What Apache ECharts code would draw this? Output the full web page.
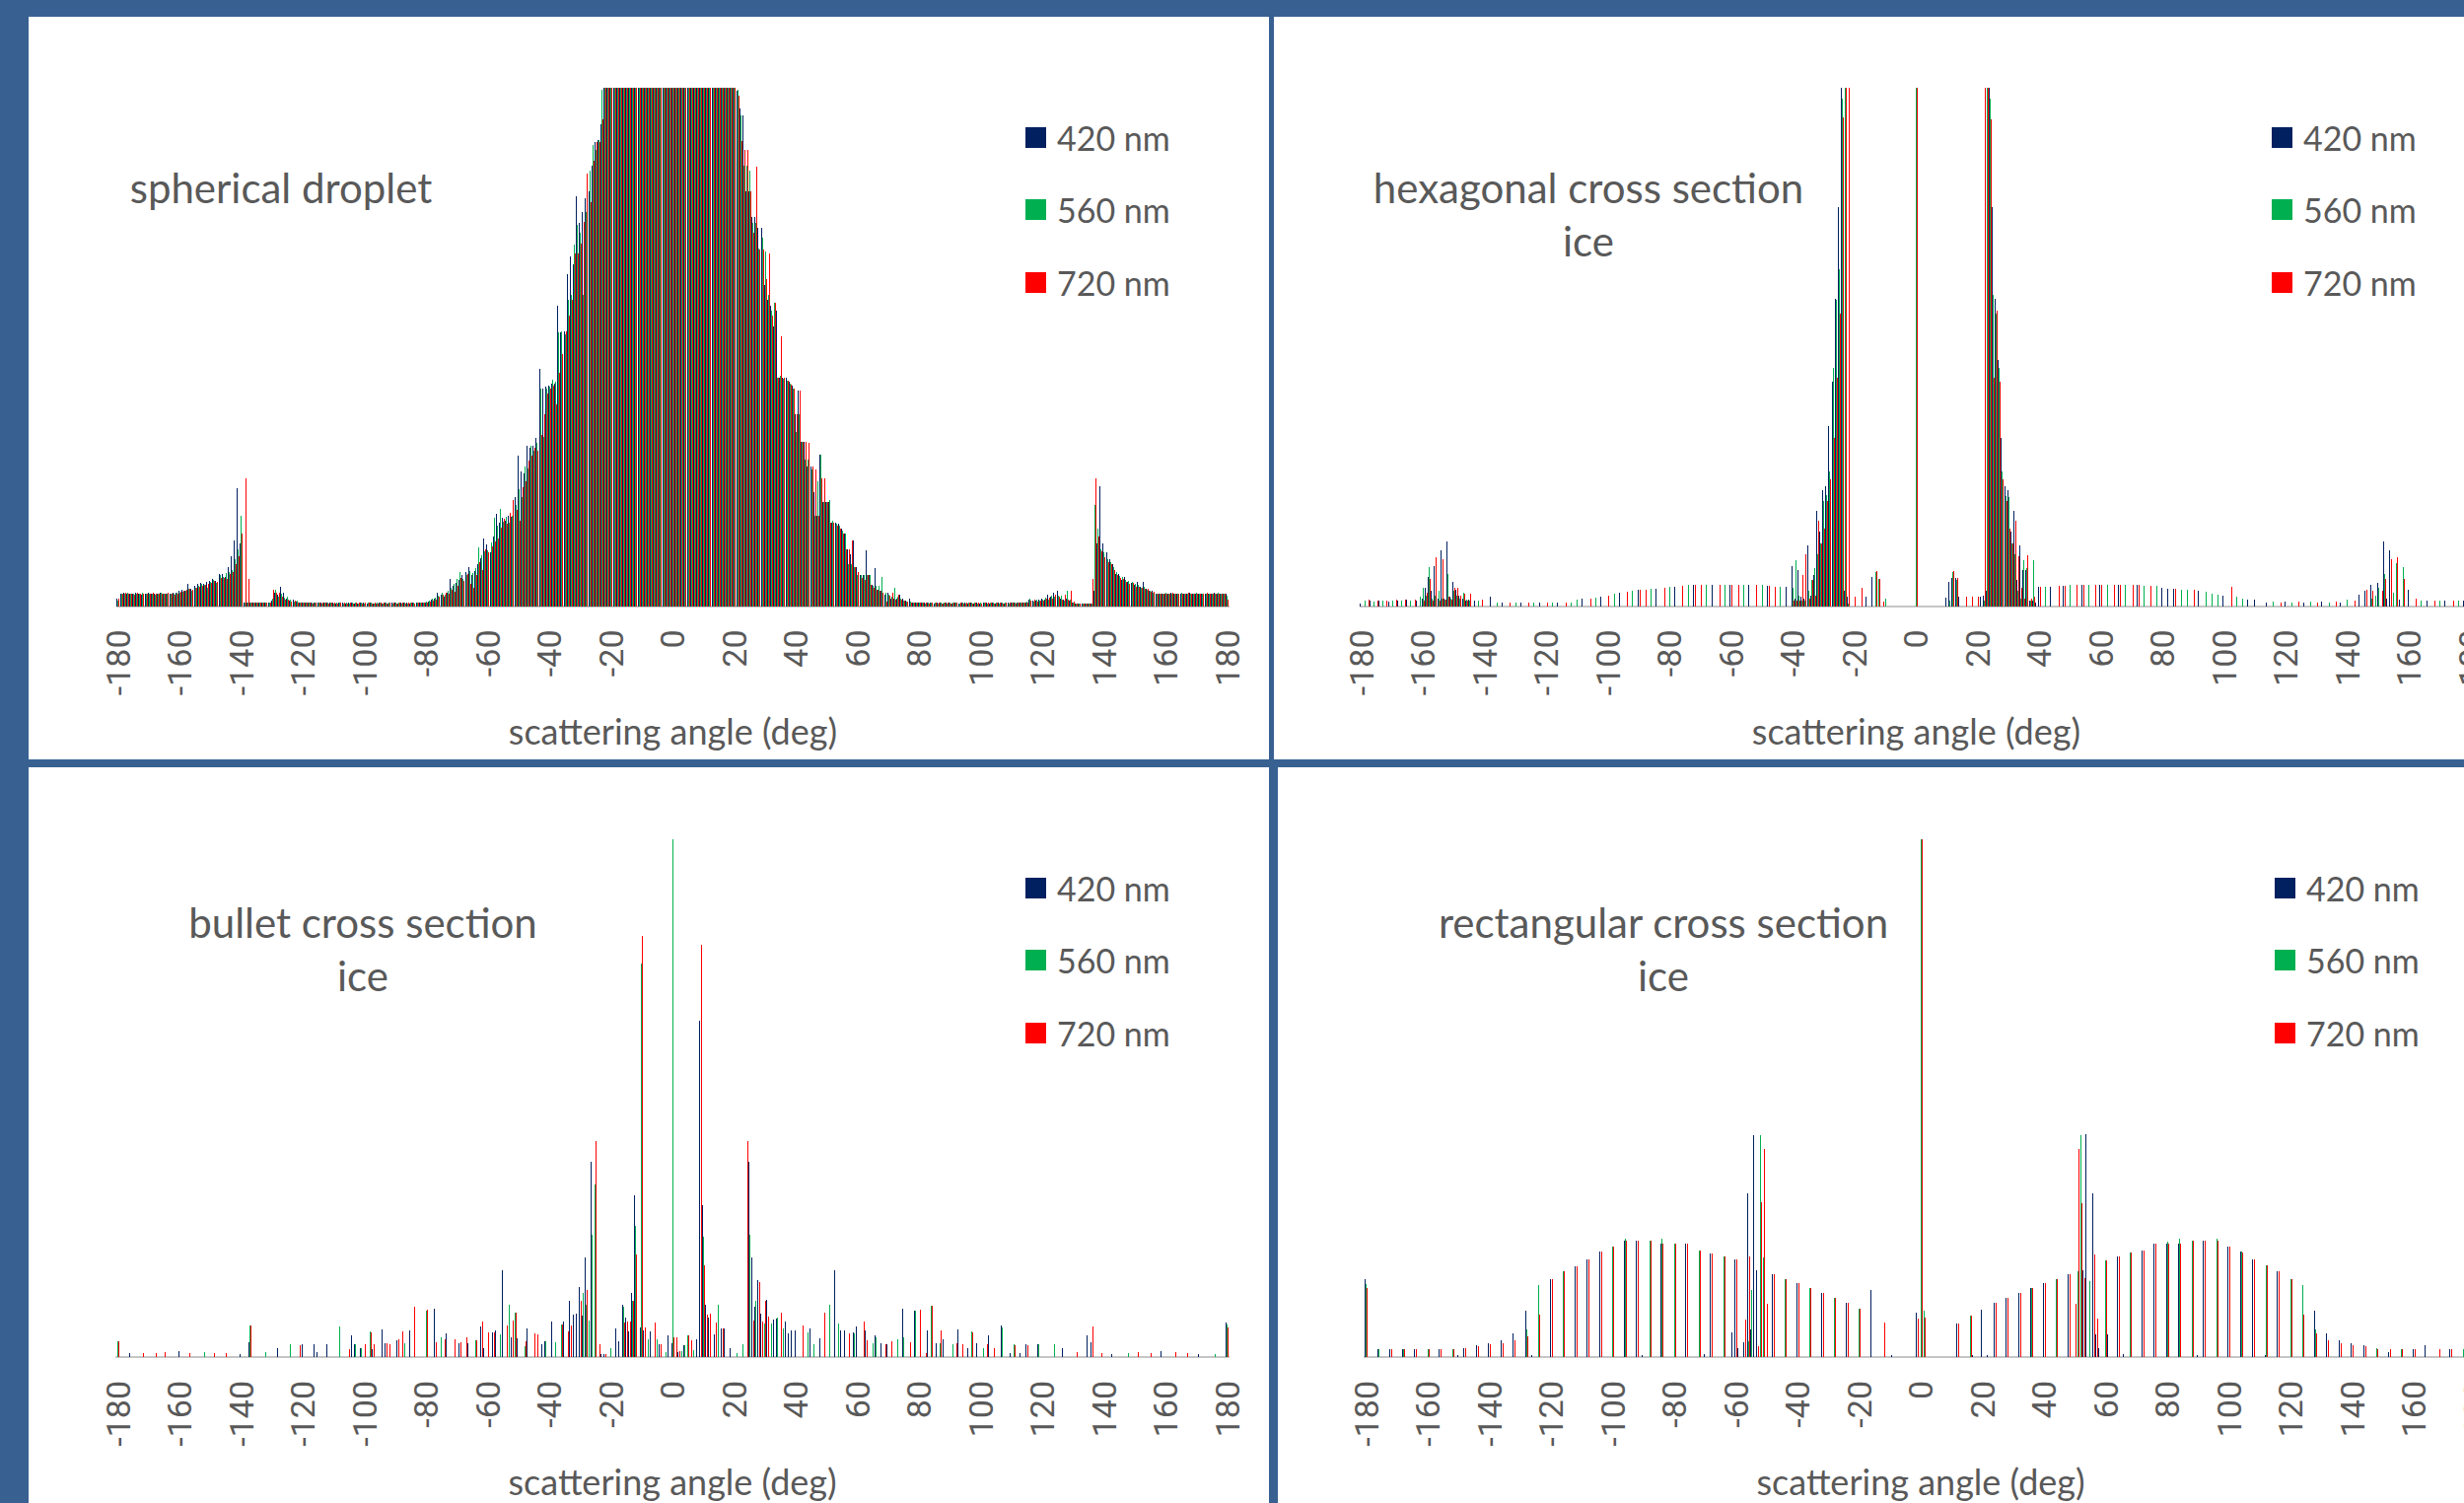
<!DOCTYPE html>
<html>
<head>
<meta charset="utf-8">
<script src="https://cdn.jsdelivr.net/npm/echarts@6.0.0/dist/echarts.min.js"></script>
<style>
html,body{margin:0;padding:0;background:#386192;overflow:hidden;}
#chart{width:2499px;height:1524px;}
#chart svg path{shape-rendering:crispEdges;}
</style>
</head>
<body>
<div id="chart"></div>
<script>
// categories: scattering angle in degrees
const angles = [];
for (let a = -180; a <= 180; a++) angles.push(String(a));

const seriesNames = ['420 nm', '560 nm', '720 nm'];
const seriesColors = ['#002060', '#00B050', '#FF0000'];
const panelTitles = ['spherical droplet', 'hexagonal cross section\nice', 'bullet cross section\nice', 'rectangular cross section\nice'];
const axisTitle = 'scattering angle (deg)';

// ---- spherical droplet (dense, one value per degree, % of plot height; >100 is clipped) ----
const sphere420 = [
1.5,2.4,2.5,2.4,2.3,2.4,2.5,2.4,2.2,2.4,2.5,2.3,2.4,2.4,2.5,2.4,2.3,2.4,2.6,2.5,
2.9,3.2,3.0,4.2,3.3,3.9,4.2,4.4,4.3,4.6,4.9,5.2,4.9,6.2,6.1,5.6,7.6,9.6,12.7,
22.7,12.0,0.7,0.7,
0.7,0.6,0.7,0.7,0.6,0.7,0.7,
1.0,2.5,2.2,3.7,2.5,1.5,1.0,1.2,0.8,
0.7,0.6,0.6,0.7,0.6,0.6,0.7,0.6,0.6,0.6,0.7,0.6,0.5,0.6,0.6,0.5,0.6,0.6,0.5,0.5,0.6,0.6,0.5,0.6,0.5,0.5,0.6,0.5,0.6,0.5,0.6,0.6,0.5,0.6,0.6,0.6,0.5,0.6,0.6,0.7,0.6,0.7,
0.9,1.2,1.5,2.5,2.2,1.8,2.6,5.2,3.9,4.5,5.0,5.9,6.5,7.6,6.0,6.8,8.0,9.2,13.0,11.8,10.3,13.5,17.8,16.0,17.0,16.4,17.5,17.2,21.0,29.0,26.0,25.5,31.0,30.5,31.0,32.4,45.7,42.0,42.3,42.6,43.0,43.0,57.9,52.8,53.0,64.0,67.4,66.0,79.0,74.0,76.0,78.6,80.0,85.0,89.5,90.0,93.0,
150,150,150,150,150,150,150,150,150,150,150,150,150,150,150,150,150,150,150,150,150,150,150,150,150,150,150,150,150,150,150,150,150,150,150,150,150,150,150,150,150,150,150,
99.5,96,94.6,80,80,75,75,73,73,62,59,58,54,57,44,44,44,43.2,42.6,37,41.6,31.7,31.7,27,27,22,17.5,29.3,20,20,20,16,16,15.8,15,14,11,10,12.7,7.6,6,6,10.7,6,4,7.3,3.2,3,2.2,2.5,1.5,1.5,1.5,2.2,1.5,1.0,1.5,
0.7,0.6,0.6,0.7,0.6,0.6,0.6,0.5,0.6,0.6,0.5,0.6,0.6,0.5,0.6,0.5,0.6,0.6,0.5,0.6,0.5,0.6,0.5,0.6,0.6,0.5,0.6,0.5,0.6,0.6,0.5,0.6,0.6,0.7,0.6,0.6,0.7,0.7,
1.2,1.0,1.0,1.3,1.5,1.2,2.2,1.8,2.5,3.0,1.5,1.2,1.5,1.0,0.6,0.5,0.5,0.5,0.5,0.5,
0.5,3.0,12.0,23.2,12.0,10.3,9.0,8.0,6.2,6.2,5.0,5.6,4.6,4.4,4.0,4.6,3.8,4.6,3.3,3.0,2.9,
2.4,2.3,2.4,2.3,2.4,2.5,2.3,2.4,2.4,2.3,2.4,2.5,2.3,2.4,2.4,2.3,2.4,2.3,2.4,2.5,2.3,2.4,2.4,2.3
];
const sphere560 = [
1.0,2.3,2.4,2.5,2.4,2.3,2.4,2.4,2.5,2.3,2.4,2.4,2.2,2.4,2.5,2.4,2.4,2.3,2.4,2.5,
2.6,2.8,2.9,3.4,2.9,3.5,3.9,4.2,4.1,3.5,4.6,5.1,4.5,6.0,5.7,6.3,6.6,6.9,9.0,
11.0,17.5,0.7,0.7,
0.6,0.7,0.6,0.6,0.7,0.6,0.6,
1.5,3.2,1.8,2.4,1.6,1.8,1.3,0.8,1.0,
0.6,0.7,0.6,0.6,0.6,0.7,0.6,0.5,0.6,0.6,0.6,0.5,0.6,0.6,0.5,0.6,0.5,0.6,0.6,0.5,0.6,0.5,0.6,0.6,0.5,0.6,0.6,0.5,0.6,0.6,0.5,0.6,0.6,0.5,0.6,0.5,0.6,0.6,0.7,0.6,0.7,0.8,
1.0,1.4,1.6,2.0,2.5,2.2,3.0,3.5,4.2,5.2,6.6,5.3,5.9,6.8,6.4,7.3,11.3,9.8,10.5,10.8,12.2,17.1,15.5,18.8,16.2,17.3,16.0,17.5,19.5,22.5,21.0,27.0,26.5,31.0,30.0,31.5,42.0,32.7,42.0,42.3,43.6,43.3,52.8,53.0,52.5,59.0,60.0,69.8,73.5,72.0,60.0,76.0,84.0,89.0,88.0,90.0,99.7,
150,150,150,150,150,150,150,150,150,150,150,150,150,150,150,150,150,150,150,150,150,150,150,150,150,150,150,150,150,150,150,150,150,150,150,150,150,150,150,150,150,150,150,
99.7,94.6,85,85,84,74,74,69,71,68.4,60,57,58.6,44,44.5,43.8,43.5,43,42,33.6,37,31.7,28.3,28.3,26.3,17.5,24,29.3,20,20,20.5,16.5,15.8,15.5,14.5,14,8,8,7.6,6,6,6,6,6,3.9,3.9,3.9,5.6,2.5,2.2,1.8,3.5,1.8,1.5,1.0,0.9,0.8,
0.6,0.6,0.7,0.6,0.5,0.6,0.6,0.6,0.5,0.6,0.6,0.5,0.6,0.6,0.6,0.5,0.6,0.5,0.6,0.6,0.6,0.5,0.6,0.6,0.5,0.6,0.6,0.6,0.5,0.6,0.6,0.5,0.6,0.6,0.7,0.6,0.7,0.8,
1.5,0.9,1.2,1.1,1.2,1.6,1.3,2.0,1.8,2.0,2.0,1.0,3.0,1.2,0.6,0.5,0.5,0.5,0.5,0.5,
0.5,19.5,15.0,11.0,10.3,9.0,8.5,7.5,6.5,5.8,5.6,5.0,4.8,4.6,4.2,4.0,3.5,3.8,3.2,2.9,2.6,
2.3,2.4,2.4,2.5,2.3,2.4,2.4,2.3,2.5,2.4,2.3,2.4,2.4,2.5,2.3,2.4,2.4,2.3,2.4,2.4,2.5,2.3,2.4,2.0
];
const sphere720 = [
1.4,2.4,2.5,2.4,2.4,2.2,2.5,2.4,2.3,2.4,2.4,2.5,2.4,2.3,2.4,2.4,2.5,2.4,2.2,2.4,
2.7,2.9,3.2,3.3,3.1,3.6,3.7,3.9,4.0,4.2,4.5,4.8,4.7,5.4,5.5,5.2,6.2,6.5,8.0,
9.6,14.0,24.7,5.2,
0.7,0.6,0.7,0.6,0.6,0.7,0.6,
3.2,2.6,2.5,1.8,1.2,1.2,0.9,1.0,0.7,
0.6,0.6,0.7,0.6,0.5,0.6,0.6,0.6,0.7,0.5,0.6,0.6,0.5,0.6,0.6,0.5,0.6,0.5,0.6,0.6,0.5,0.6,0.6,0.5,0.6,0.5,0.6,0.6,0.5,0.6,0.6,0.5,0.6,0.6,0.5,0.6,0.6,0.5,0.6,0.6,0.6,0.7,
0.8,1.0,1.2,1.8,2.2,2.5,2.4,3.1,2.8,3.9,5.5,4.8,6.2,4.2,3.5,6.0,8.5,7.0,11.0,10.3,11.6,12.5,13.0,15.2,16.8,15.9,18.0,20.5,18.5,16.5,23.0,24.0,28.0,29.0,30.5,30.0,33.0,37.0,41.0,42.0,42.5,38.9,45.0,48.7,53.0,56.0,59.0,68.0,68.0,70.0,74.2,83.4,78.0,86.0,89.5,89.5,94.0,
150,150,150,150,150,150,150,150,150,150,150,150,150,150,150,150,150,150,150,150,150,150,150,150,150,150,150,150,150,150,150,150,150,150,150,150,150,150,150,150,150,150,150,
98.5,89.8,88,88,80,72,84.7,68.7,68.7,63,68,56,58.6,44,52,44,43.5,42.8,42,37,41.6,31.7,31.7,31.4,27,26.3,17.5,24.6,24.6,20,16,16,15.5,15,14,11,11,12.7,7.6,6.5,5.5,5,6,4,3.5,3.2,3,2.5,0.9,2,2.5,1.2,2.2,1.2,1.0,0.8,0.7,
0.6,0.7,0.6,0.6,0.6,0.5,0.6,0.6,0.6,0.5,0.6,0.6,0.5,0.6,0.6,0.6,0.5,0.6,0.6,0.5,0.6,0.6,0.5,0.6,0.6,0.6,0.5,0.6,0.6,0.5,0.6,0.6,0.6,0.5,0.6,0.7,0.6,0.7,
1.0,1.2,0.9,1.0,1.1,1.4,1.6,1.5,2.2,1.8,1.2,2.2,1.2,3.0,0.8,0.5,0.5,0.5,0.5,0.5,
5.2,24.7,13.4,10.5,9.5,8.5,8.0,7.0,6.0,5.5,5.2,4.6,4.2,4.5,3.8,3.7,3.6,3.4,3.3,2.8,2.7,
2.4,2.4,2.3,2.4,2.4,2.5,2.4,2.3,2.4,2.4,2.5,2.3,2.4,2.4,2.3,2.4,2.5,2.4,2.3,2.4,2.4,2.3,2.4,1.3
];

// ---- hexagonal ice: [angle, value] (angles not listed are 0) ----
const hex420 = [
[-180,0.5],[-177,1.0],[-174,1.0],[-171,0.8],[-168,1.0],[-165,1.3],[-162,1.0],
[-160,1.5],[-159,3.5],[-158,5.6],[-157,2.9],[-156,7.7],[-155,1.5],[-154,10.7],[-153,1.5],[-152,12.5],[-151,1.8],[-150,4.6],[-149,3.2],[-148,2.0],[-147,1.5],[-146,1.0],[-145,1.3],[-143,1.0],[-138,1.8],
[-134,0.6],[-128,0.6],[-122,0.7],[-116,0.7],
[-108,1.4],[-102,1.8],[-96,2.5],[-90,3.1],[-84,3.4],[-78,3.8],[-72,4.0],[-66,4.1],[-60,4.1],[-54,4.1],[-48,3.9],[-42,3.7],
[-40,7.7],[-39,1.5],[-38,6.9],[-37,1.8],[-36,1.5],[-35,11.7],[-34,2.0],[-33,5.9],[-32,18.3],[-31,14.4],[-30,22.4],[-29,23.2],[-28,34.8],[-27,43.3],[-26,59.2],[-25,77],[-24,130],[-23,3.0],[-22,1.8],[-16,1.8],[-14,5.6],
[10,1.6],[11,4.6],[12,5.4],[13,5.4],[14,1.8],[21,1.8],[22,2.0],[23,3.0],[24,130],[25,77],[26,59.2],[27,47.4],[28,32.4],[29,23.2],[30,22.4],[31,14.4],[32,18.3],[33,5.0],[34,11.7],[35,6.9],[36,6.9],[37,1.0],[38,1.0],[39,0.7],[40,3.7],
[44,3.8],[48,3.9],[54,4.1],[60,4.1],[66,4.1],[72,4.0],[80,3.5],[82,3.3],[84,3.3],[92,2.9],[100,2.0],[108,1.3],[110,1.3],
[114,0.7],[120,0.8],[126,0.7],[132,0.8],[138,0.7],[144,2.2],[146,2.9],[148,4.1],[150,4.4],[152,12.5],[153,1.5],[154,10.7],[157,1.2],[160,3.2],[166,1.0],[172,1.0],[178,1.0]
];
const hex560 = [
[-179,1.0],[-176,0.8],[-173,1.0],[-170,1.0],[-167,1.0],[-164,1.0],[-161,1.8],[-160,3.5],[-159,2.0],[-158,7.6],[-157,1.5],[-156,2.0],[-155,2.9],[-154,1.5],[-153,1.2],[-152,6.2],[-151,1.5],[-150,3.0],[-149,2.0],[-148,1.5],[-147,2.5],[-146,1.2],[-145,1.0],[-142,1.0],
[-136,0.6],[-130,0.6],[-124,0.7],[-118,0.6],[-112,0.7],
[-110,1.3],[-104,1.7],[-98,2.4],[-92,2.9],[-86,3.3],[-80,3.7],[-74,4.0],[-68,4.1],[-62,4.1],[-56,4.1],[-50,4.0],[-44,3.7],
[-40,3.5],[-39,8.8],[-38,2.0],[-37,1.0],[-36,1.0],[-35,3.0],[-34,5.0],[-33,7.3],[-32,10.0],[-31,12.0],[-30,20.2],[-29,21.5],[-28,26.0],[-27,46.0],[-26,59.0],[-25,65.0],[-24,98],[-23,130],[-22,0.5],[-13,6.5],[-12,5.2],[-10,1.5],
[0,130],[11,1.0],[12,6.5],[13,5.0],[22,1.0],[23,130],[24,98],[25,60],[26,56.5],[27,46],[28,26],[29,21.2],[30,21],[31,12],[32,10],[33,3],[34,1.5],[35,8.8],[36,7.3],[37,1.0],[38,8.8],
[42,3.7],[50,4.0],[56,4.1],[62,4.1],[68,4.1],[74,3.9],[78,3.9],[86,3.1],[88,3.1],[94,2.7],[96,2.4],[98,2.2],[104,1.8],[106,1.5],
[116,0.8],[122,0.7],[128,0.8],[134,0.7],[140,1.2],[148,1.5],[149,2.0],[150,3.5],[152,6.2],[155,2.5],[156,8.3],[158,7.6],[164,1.0],[170,1.0],[176,1.0]
];
const hex720 = [
[-178,1.2],[-175,1.0],[-172,1.0],[-169,1.2],[-166,1.3],[-163,1.3],[-160,1.0],[-159,2.5],[-158,5.2],[-157,1.0],[-156,9.5],[-155,1.0],[-154,9.0],[-153,1.2],[-152,1.8],[-151,1.2],[-150,3.5],[-149,3.5],[-148,2.0],[-147,2.4],[-146,1.0],[-145,2.4],[-141,1.3],
[-132,0.6],[-126,0.6],[-120,0.6],[-114,0.7],
[-106,1.5],[-100,2.0],[-94,2.7],[-90,3.1],[-88,3.2],[-82,3.6],[-76,3.9],[-72,4.0],[-70,4.1],[-64,4.1],[-60,4.1],[-58,4.1],[-52,4.0],[-48,3.9],[-46,3.8],
[-40,1.0],[-39,1.0],[-38,1.0],[-37,6.0],[-36,10.0],[-35,1.5],[-34,5.0],[-33,2.0],[-32,16.4],[-31,12.0],[-30,15.0],[-29,20.2],[-28,24.4],[-27,32.4],[-26,44.0],[-25,56.5],[-24,94.2],[-23,130],[-22,130],[-20,1.8],[-18,3.5],[-13,6.8],[-12,5.2],[-11,0.8],
[0,130],[12,6.8],[13,5.4],[16,1.8],[18,1.8],[20,1.8],[22,130],[23,130],[24,94],[25,44],[26,57],[27,43.3],[28,24.4],[29,20.2],[30,15],[31,12],[32,16.4],[33,9.6],[34,3.5],[35,1.5],[36,9.8],[37,1.5],[38,1.8],[40,3.7],
[46,3.9],[48,3.9],[52,4.1],[54,4.1],[58,4.1],[60,4.1],[64,4.1],[66,4.1],[70,4.0],[72,4.0],[76,3.9],[84,3.3],[90,3.1],[102,3.7],
[118,0.7],[124,0.8],[130,0.7],[136,0.8],[142,1.0],[146,3.1],[148,2.9],[151,2.9],[152,5.2],[154,9.0],[156,9.5],[158,5.2],[162,1.5],[168,1.0],[174,1.0],[180,1.0]
];

// ---- bullet ice ----
const bullet420 = [
[-176,0.7],[-160,1.2],[-140,0.6],[-137,2.9],[-128,1.7],[-120,2.4],[-116,2.4],[-115,0.9],[-112,2.4],[-104,4.1],[-103,2.4],[-101,1.8],[-97,1.5],[-94,5.4],[-93,2.7],[-89,3.2],[-85,5.2],[-77,9.4],[-73,4.6],[-69,2.6],[-66,2.6],[-62,5.9],[-61,1.8],[-58,4.8],[-57,5.2],[-55,16.7],[-52,3.8],[-50,3.7],[-47,5.6],[-42,2.4],[-41,3.1],[-39,6.9],[-35,6.9],[-33,10.9],[-32,8.2],[-31,8.3],[-30,13.5],[-29,8.0],[-28,19.2],[-26,37.6],[-23,0.6],[-22,0.6],[-18,5.6],[-17,3.1],[-16,10.1],[-15,7.6],[-14,5.0],[-13,12.4],[-12,31.3],[-10,5.8],[-9,5.1],[-7,4.9],[-4,2.5],[-1,4.2],[0,2.7],[2,0.9],[4,2.2],[8,3.4],[9,64.8],[10,29.4],[11,10.0],[12,7.6],[14,4.4],[16,5.6],[17,5.6],[19,1.7],[25,37.6],[26,19.2],[27,9.7],[28,14.8],[29,8.3],[31,11.0],[33,7.3],[34,7.5],[37,6.9],[38,4.6],[39,5.1],[40,5.1],[45,5.6],[48,3.7],[53,16.7],[55,5.2],[56,5.1],[59,4.8],[60,5.9],[63,5.1],[66,4.1],[68,2.6],[70,2.4],[75,9.4],[79,9.0],[83,5.1],[86,2.7],[88,3.4],[93,5.4],[96,1.8],[99,2.6],[103,4.1],[107,6.1],[110,0.7],[113,0.8],[115,2.4],[119,2.4],[127,1.7],[135,4.1],[136,2.9],[143,0.6],[159,1.2],[171,0.6],[180,6.6]
];
const bullet560 = [
[-180,3.1],[-152,0.9],[-137,6.1],[-132,0.9],[-124,2.4],[-108,5.9],[-103,2.4],[-101,1.8],[-98,4.9],[-87,2.6],[-80,9.0],[-75,3.9],[-64,3.2],[-56,4.4],[-53,10.1],[-51,8.6],[-48,2.0],[-41,3.1],[-38,2.9],[-36,6.3],[-29,12.4],[-28,10.0],[-27,7.0],[-26,23.6],[-25,33.3],[-20,1.7],[-16,9.7],[-13,10.9],[-12,25.3],[-10,75.9],[-8,3.4],[-5,3.4],[-2,1.0],[0,100],[3,1.2],[4,2.2],[5,4.1],[7,1.4],[10,23.3],[15,10.1],[21,0.7],[23,2.4],[25,23.6],[27,10.9],[30,6.5],[32,6.5],[34,7.6],[36,5.5],[44,4.8],[46,2.4],[51,10.1],[54,6.5],[59,4.5],[65,2.6],[66,3.8],[73,3.4],[75,3.9],[79,9.0],[84,9.9],[87,2.7],[91,2.4],[97,4.9],[101,1.8],[107,5.8],[111,2.4],[119,2.4],[124,2.4],[148,0.7],[176,0.6],[180,6.3]
];
const bullet720 = [
[-180,3.1],[-172,0.7],[-168,0.7],[-165,0.9],[-157,0.7],[-149,0.7],[-145,0.7],[-137,6.1],[-121,2.2],[-105,1.5],[-100,2.4],[-98,4.7],[-97,2.5],[-93,2.7],[-92,2.4],[-89,3.4],[-88,5.0],[-84,9.7],[-80,9.2],[-77,2.9],[-74,3.4],[-71,3.4],[-69,2.9],[-67,3.9],[-64,3.2],[-62,6.9],[-60,4.8],[-58,4.8],[-54,6.1],[-52,7.1],[-51,8.6],[-48,3.0],[-45,4.6],[-44,4.3],[-36,6.2],[-34,5.0],[-33,6.0],[-30,10.9],[-28,12.9],[-25,41.6],[-24,2.4],[-22,0.6],[-16,6.6],[-15,6.9],[-14,6.9],[-13,10.9],[-12,19.7],[-10,81.3],[-9,5.8],[-6,6.6],[-4,2.5],[0,3.9],[1,3.9],[2,1.2],[5,4.1],[6,3.2],[9,79.6],[10,17.7],[11,8.2],[12,8.3],[14,6.6],[16,5.6],[24,41.6],[26,7.0],[28,14.4],[29,6.9],[30,10.9],[31,7.8],[35,8.6],[42,6.1],[49,8.6],[57,4.6],[62,6.9],[63,3.2],[69,2.4],[71,3.0],[77,2.9],[80,9.2],[82,0.7],[84,9.9],[87,5.2],[92,2.7],[94,2.4],[97,4.7],[102,2.4],[104,1.7],[111,2.3],[115,2.3],[131,0.9],[136,5.9],[139,0.7],[151,0.9],[155,0.7],[163,0.9],[167,0.7],[180,5.8]
];

// ---- rectangular ice ----
const rect420 = [
[-180,15.1],[-176,1.6],[-172,1.6],[-168,1.6],[-164,1.6],[-156,1.6],[-150,0.3],[-148,1.8],[-144,2.2],[-140,2.6],[-136,3.2],[-132,4.6],[-128,9.0],[-126,0.3],[-120,15.1],[-112,17.5],[-108,18.9],[-104,20.4],[-96,22.4],[-92,22.4],[-90,0.4],[-84,21.9],[-76,21.8],[-70,0.5],[-68,19.9],[-61,4.8],[-60,18.8],[-59,1.7],[-57,2.8],[-56,31.6],[-55,5.4],[-54,42.9],[-53,16.7],[-48,16.0],[-40,14.3],[-32,12.4],[-24,10.4],[-16,12.9],[-9,0.3],[-1,8.6],
[12,6.5],[17,0.3],[20,9.2],[22,0.3],[24,10.4],[28,11.4],[32,12.4],[36,13.4],[40,14.3],[48,15.9],[53,16.7],[54,43.1],[56,31.6],[57,4.4],[58,1.8],[61,4.4],[64,19.5],[66,0.5],[72,20.6],[76,21.8],[80,21.9],[84,21.9],[90,0.4],[92,22.4],[100,21.3],[104,20.4],[108,18.9],[112,0.3],[116,16.5],[128,9.0],[132,4.6],[136,3.2],[140,2.7],[144,2.2],[152,1.0],[160,1.6],[164,2.2],[172,1.6],[180,15.1]
];
const rect560 = [
[-180,14.0],[-176,1.6],[-168,1.6],[-160,1.5],[-152,1.6],[-128,5.4],[-124,13.9],[-116,16.5],[-100,21.4],[-96,22.9],[-88,22.4],[-84,22.9],[-80,21.9],[-72,20.6],[-64,19.4],[-56,3.0],[-55,12.9],[-52,42.9],[-51,19.2],[-44,15.1],[-36,13.4],[-28,11.4],[-20,9.4],
[0,100],[1,9.0],[16,8.0],[36,13.4],[44,15.1],[51,16.5],[52,42.9],[55,14.6],[60,18.7],[68,20.1],[80,22.2],[84,22.9],[88,22.4],[96,22.9],[104,20.4],[112,17.7],[120,15.1],[124,13.9],[128,5.4],[148,1.8],[156,1.6],[176,1.6],[180,14.0]
];
const rect720 = [
[-180,13.4],[-172,1.5],[-168,1.5],[-164,1.5],[-160,1.5],[-156,1.5],[-152,1.6],[-148,1.7],[-144,2.0],[-140,2.4],[-136,2.7],[-132,3.3],[-128,4.0],[-124,8.2],[-120,15.1],[-116,16.5],[-112,17.5],[-108,18.9],[-104,20.4],[-100,21.4],[-96,22.4],[-92,22.4],[-88,22.4],[-84,21.9],[-80,21.9],[-76,21.8],[-72,20.6],[-68,19.9],[-64,19.4],[-60,18.8],[-57,7.3],[-56,19.5],[-53,2.0],[-52,29.9],[-51,40.1],[-50,10.2],[-48,16.0],[-44,15.1],[-40,14.3],[-36,13.4],[-32,12.4],[-28,11.4],[-24,10.4],[-20,9.4],[-12,6.7],[-1,7.5],
[0,100],[1,7.6],[12,6.5],[16,8.0],[24,10.4],[28,11.4],[32,12.4],[36,13.3],[40,14.3],[44,15.1],[48,15.9],[50,10.2],[51,40.1],[52,29.6],[53,15.2],[56,19.7],[57,7.5],[60,18.7],[64,19.5],[68,20.1],[72,20.6],[76,21.8],[80,21.9],[84,21.9],[88,22.4],[92,22.4],[96,22.4],[100,21.3],[104,20.2],[108,18.9],[112,17.7],[116,16.5],[120,15.1],[124,8.2],[128,4.6],[132,3.3],[136,2.7],[140,2.3],[144,2.0],[148,1.6],[152,1.6],[156,1.6],[160,1.6],[168,1.6],[172,1.6],[180,13.4]
];

// expand [angle, value] lists into one value per category
function dense(pairs) {
  const arr = angles.map(() => 0);
  pairs.forEach(p => { arr[p[0] + 180] = p[1]; });
  return arr;
}

const panelData = [
  [sphere420, sphere560, sphere720],
  [dense(hex420), dense(hex560), dense(hex720)],
  [dense(bullet420), dense(bullet560), dense(bullet720)],
  [dense(rect420), dense(rect560), dense(rect720)]
];

// layout
const plotW = 1128.1, plotH = 525.5;
const gridPos = [
  { left: 118.4, top: 89 },
  { left: 1379.4, top: 89 },
  { left: 118, top: 850.5 },
  { left: 1384, top: 850.5 }
];
const panelRects = [
  { x: 29, y: 17, w: 1258, h: 753 },
  { x: 1292, y: 17, w: 1207, h: 753 },
  { x: 29, y: 778, w: 1258, h: 746 },
  { x: 1296, y: 778, w: 1203, h: 746 }
];
const titlePos = [
  { x: 285, y: 190 },
  { x: 1611, y: 217 },
  { x: 368, y: 962 },
  { x: 1687, y: 962 }
];
const legendPos = [
  { left: 1040, top: 119 },
  { left: 2304, top: 119 },
  { left: 1040, top: 880 },
  { left: 2307, top: 880 }
];

const textColor = '#595959';
const grids = [], xAxes = [], yAxes = [], series = [], legends = [], graphics = [];

panelRects.forEach(r => {
  graphics.push({ type: 'rect', z: -10, silent: true,
    shape: { x: r.x, y: r.y, width: r.w, height: r.h },
    style: { fill: '#ffffff' } });
});
titlePos.forEach((t, i) => {
  graphics.push({ type: 'text', z: 50, silent: true, x: t.x, y: t.y,
    style: { text: panelTitles[i], fill: textColor, fontSize: 42, fontFamily: 'Lato',
      align: 'center', verticalAlign: 'middle', lineHeight: 54 } });
});

for (let p = 0; p < 4; p++) {
  grids.push({ left: gridPos[p].left, top: gridPos[p].top, width: plotW, height: plotH,
    containLabel: false, outerBoundsMode: 'none' });
  xAxes.push({
    gridIndex: p, type: 'category', data: angles, boundaryGap: true,
    axisLine: { show: true, lineStyle: { color: '#C6C6C6', width: 2 } },
    axisTick: { show: false },
    splitLine: { show: false },
    axisLabel: { interval: 19, rotate: 90, margin: 24, fontSize: 34, color: textColor, fontFamily: 'Roboto' },
    name: axisTitle, nameLocation: 'middle', nameGap: 108,
    nameTextStyle: { fontSize: 36, color: textColor, fontFamily: 'Lato' }
  });
  yAxes.push({ gridIndex: p, type: 'value', min: 0, max: 100, show: false, splitLine: { show: false } });
  for (let s = 0; s < 3; s++) {
    series.push({
      type: 'bar', name: seriesNames[s], xAxisIndex: p, yAxisIndex: p,
      data: panelData[p][s], clip: true, silent: true,
      barGap: '0%', barCategoryGap: '4%',
      itemStyle: { color: seriesColors[s] }
    });
  }
  legends.push({
    left: legendPos[p].left, top: legendPos[p].top, orient: 'vertical', padding: 0,
    itemWidth: 21, itemHeight: 21, itemGap: 33.5, icon: 'rect', selectedMode: false,
    data: seriesNames,
    textStyle: { fontSize: 34, color: textColor, fontFamily: 'Lato', lineHeight: 40, padding: [0, 0, 0, 6] }
  });
}

const chart = echarts.init(document.getElementById('chart'), null, { renderer: 'svg' });
chart.setOption({
  backgroundColor: '#386192',
  animation: false,
  color: seriesColors,
  grid: grids,
  xAxis: xAxes,
  yAxis: yAxes,
  legend: legends,
  series: series,
  graphic: graphics
});
</script>
</body>
</html>
